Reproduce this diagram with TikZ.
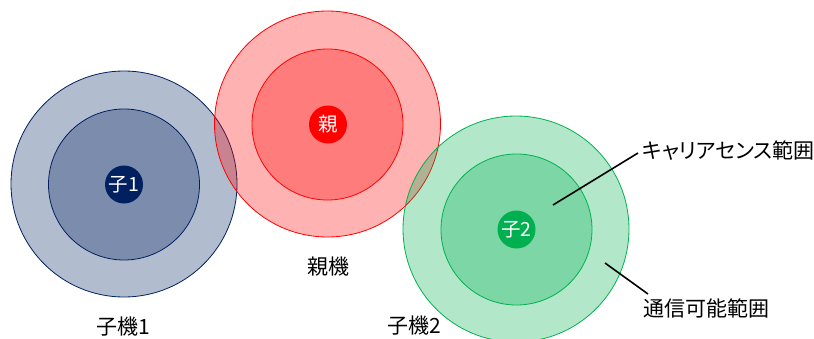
\documentclass[tikz,border=0pt]{standalone}
\usepackage{fontspec}
\newfontfamily\jp[RawFeature=+palt]{Noto Sans CJK JP}
\definecolor{navyc}{RGB}{0,32,96}
\definecolor{redc}{RGB}{255,0,0}
\definecolor{greenc}{RGB}{0,176,80}
\tikzset{
  ring/.style={circle, draw=#1, fill=#1, fill opacity=0.3, draw opacity=1, line width=0.8pt, inner sep=0pt},
  outerring/.style={ring=#1, minimum size=226pt},
  innerring/.style={ring=#1, minimum size=151pt},
  dot/.style={circle, fill=#1, minimum size=38pt, inner sep=0pt, text=white, font=\jp\fontsize{19.5}{21}\selectfont},
  lbl/.style={font=\jp\fontsize{21}{24}\selectfont, inner sep=0pt, text=black},
  leader/.style={line width=1.6pt, black}
}
\begin{document}
\begin{tikzpicture}[x=1pt,y=-1pt]
\useasboundingbox (0,0) rectangle (814,338);
% child 1
\node[outerring=navyc] (c1o) at (124,184) {};
\node[innerring=navyc] (c1i) at (124,184.5) {};
\node[dot=navyc] (c1d) at (124,184.5) {子1};
% parent
\node[outerring=redc] (po) at (327.5,124) {};
\node[innerring=redc] (pi) at (327.5,124.5) {};
\node[dot=redc] (pd) at (328,124.5) {親};
% child 2
\node[outerring=greenc] (c2o) at (516,229) {};
\node[innerring=greenc] (c2i) at (516.5,229.5) {};
\node[dot=greenc] (c2d) at (516.5,229.5) {子2};
% labels
\node[lbl] (l1) at (123,327) {子機1};
\node[lbl] (lp) at (328,267) {親機};
\node[lbl] (l2) at (414,326) {子機2};
\node[lbl, anchor=west] (lcs) at (642,151) {キャリアセンス範囲};
\node[lbl, anchor=west] (lcr) at (643,308) {通信可能範囲};
% leaders
\coordinate (s1) at (553,205);
\coordinate (e1) at (638,153);
\coordinate (s2) at (605,263);
\coordinate (e2) at (648,294);
\draw[leader] (s1) -- (e1);
\draw[leader] (s2) -- (e2);
\end{tikzpicture}
\end{document}
